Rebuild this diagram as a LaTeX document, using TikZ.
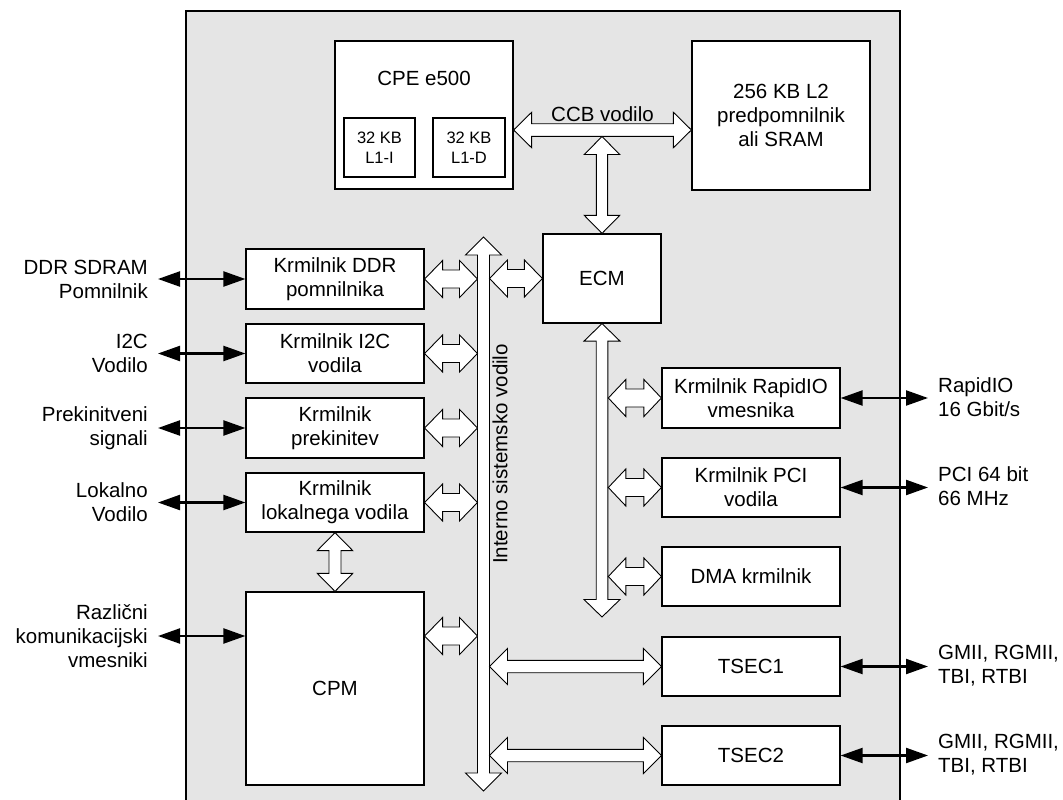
\documentclass[tikz,border=0pt]{standalone}
\usepackage{fontspec}
\setmainfont{Liberation Sans}
\usetikzlibrary{arrows.meta,calc}
\definecolor{chipgray}{RGB}{229,229,229}
% horizontal block double arrow: #1 left point, #2 right point, #3 shaft half, #4 head half, #5 head length
\newcommand{\hba}[5]{%
  \draw[barrow] let \p1=#1, \p2=#2 in
   (\x1,\y1) -- (\x1+#5pt,\y1+#4pt) -- (\x1+#5pt,\y1+#3pt) -- (\x2-#5pt,\y1+#3pt)
   -- (\x2-#5pt,\y1+#4pt) -- (\x2,\y1) -- (\x2-#5pt,\y1-#4pt) -- (\x2-#5pt,\y1-#3pt)
   -- (\x1+#5pt,\y1-#3pt) -- (\x1+#5pt,\y1-#4pt) -- cycle;}
% vertical block double arrow: #1 top point, #2 bottom point
\newcommand{\vba}[5]{%
  \draw[barrow] let \p1=#1, \p2=#2 in
   (\x1,\y1) -- (\x1+#4pt,\y1-#5pt) -- (\x1+#3pt,\y1-#5pt) -- (\x1+#3pt,\y2+#5pt)
   -- (\x1+#4pt,\y2+#5pt) -- (\x1,\y2) -- (\x1-#4pt,\y2+#5pt) -- (\x1-#3pt,\y2+#5pt)
   -- (\x1-#3pt,\y1-#5pt) -- (\x1-#4pt,\y1-#5pt) -- cycle;}
\tikzset{
  box/.style={draw=black, fill=white, line width=1.2pt, align=center, inner sep=0pt,
    font=\fontsize{20.5}{24}\selectfont},
  smallbox/.style={box, font=\fontsize{16.5}{20}\selectfont},
  txt/.style={align=center, inner sep=0pt, font=\fontsize{20.5}{24}\selectfont},
  barrow/.style={draw=black, fill=white, line width=0.9pt, line join=miter},
  ext/.style={draw=black, line width=2.2pt,
    {Triangle[length=22pt,width=15pt]}-{Triangle[length=22pt,width=15pt]}},
}
\begin{document}
\begin{tikzpicture}[x=1pt,y=-1pt]
\useasboundingbox (0,0) rectangle (1063,800);
\clip (0,0) rectangle (1063,800);
% chip background
\fill[chipgray] (186,11) rectangle (900,820);
\draw[line width=1.4pt] (186,820) -- (186,11) -- (900,11) -- (900,820);

% top blocks
\node[box, minimum width=178pt, minimum height=148pt] (cpe) at (424,115) {};
\node[txt] (cpetxt) at (424,78) {CPE e500};
\node[smallbox, minimum width=71pt, minimum height=59pt] (l1i) at (379.5,147.5) {32 KB\\L1-I};
\node[smallbox, minimum width=72pt, minimum height=59pt] (l1d) at (469,147.5) {32 KB\\L1-D};
\node[box, minimum width=178pt, minimum height=149pt] (l2) at (781,115.5) {256 KB L2\\predpomnilnik\\ali SRAM};
\node[box, minimum width=118pt, minimum height=89pt] (ecm) at (602,278.5) {ECM};

% left blocks
\node[box, minimum width=178pt, minimum height=60pt] (ddr) at (335,279) {Krmilnik DDR\\pomnilnika};
\node[box, minimum width=178pt, minimum height=59pt] (i2c) at (335,353.5) {Krmilnik I2C\\vodila};
\node[box, minimum width=178pt, minimum height=60pt] (prek) at (335,428) {Krmilnik\\prekinitev};
\node[box, minimum width=178pt, minimum height=59pt] (lok) at (335,502.5) {Krmilnik\\lokalnega vodila};
\node[box, minimum width=178pt, minimum height=193pt] (cpm) at (335,688.5) {CPM};

% right blocks
\node[box, minimum width=178pt, minimum height=60pt] (rio) at (751,398) {Krmilnik RapidIO\\vmesnika};
\node[box, minimum width=178pt, minimum height=59pt] (pci) at (751,487.5) {Krmilnik PCI\\vodila};
\node[box, minimum width=178pt, minimum height=59pt] (dma) at (751,576.5) {DMA krmilnik};
\node[box, minimum width=178pt, minimum height=59pt] (tsec1) at (751,666.5) {TSEC1};
\node[box, minimum width=178pt, minimum height=59pt] (tsec2) at (751,755.5) {TSEC2};

% helper coordinates
\coordinate (ccby) at (600,130);
\coordinate (ccbjoin) at (602,136.5);
\coordinate (bustop) at (483.5,237);
\coordinate (busbot) at (483.5,791);
\coordinate (busL) at (477.5,0);
\coordinate (busR) at (489.5,0);
\coordinate (ecmbot) at (602,617);
\coordinate (ecmR) at (608.3,0);

% CCB bus
\hba{(cpe.east |- ccby)}{(l2.west |- ccby)}{6.3}{17.7}{18}
\node[txt, anchor=base] (ccbtxt) at (602.5,121.5) {CCB vodilo};
\vba{(ccbjoin)}{(ecm.north)}{5.6}{17.7}{18}

% internal system bus
\vba{(bustop)}{(busbot)}{6}{18}{18}
\node[txt, rotate=90] (bustxt) at (500,454) {Interno sistemsko vodilo};

% ECM bus
\vba{(ecm.south)}{(ecmbot)}{5.8}{18}{17.5}

% short arrows left side
\hba{(ddr.east)}{(ddr.east -| busL)}{9}{18.5}{18}
\hba{(i2c.east)}{(i2c.east -| busL)}{9}{18.5}{18}
\hba{(prek.east)}{(prek.east -| busL)}{9}{18.5}{18}
\hba{(lok.east)}{(lok.east -| busL)}{9}{18.5}{18}
\hba{(cpm.east |- 0,636)}{(busL |- 0,636)}{9}{18.5}{18}
\hba{(busR |- ecm.west)}{(ecm.west)}{9}{18.5}{18}
\vba{(lok.south)}{(cpm.north)}{6}{17.7}{18}

% short arrows right side
\hba{(ecmR |- rio.west)}{(rio.west)}{9}{18.5}{17.5}
\hba{(ecmR |- pci.west)}{(pci.west)}{9}{18.5}{17.5}
\hba{(ecmR |- dma.west)}{(dma.west)}{9}{18.5}{17.5}

% long arrows to TSEC
\hba{(busR |- tsec1.west)}{(tsec1.west)}{6.2}{18}{18}
\hba{(busR |- tsec2.west)}{(tsec2.west)}{6.2}{18}{18}

% external connections left
\coordinate (xddr) at (158,279);
\coordinate (xi2c) at (158,353.5);
\coordinate (xprek) at (158,428);
\coordinate (xlok) at (158,502.5);
\coordinate (xcpm) at (158,636);
\draw[ext] (xddr) -- (ddr.west);
\draw[ext] (xi2c) -- (i2c.west);
\draw[ext] (xprek) -- (prek.west);
\draw[ext] (xlok) -- (lok.west);
\draw[ext] (xcpm) -- (xcpm -| cpm.west);
\node[txt, align=right, anchor=east] (lddr) at (148,279) {DDR SDRAM\\Pomnilnik};
\node[txt, align=right, anchor=east] (li2c) at (148,353.5) {I2C\\Vodilo};
\node[txt, align=right, anchor=east] (lprek) at (148,428) {Prekinitveni\\signali};
\node[txt, align=right, anchor=east] (llok) at (148,502.5) {Lokalno\\Vodilo};
\node[txt, align=right, anchor=east] (lcpm) at (148,636) {Različni\\komunikacijski\\vmesniki};

% external connections right
\coordinate (xrio) at (928,398);
\coordinate (xpci) at (928,487.5);
\coordinate (xts1) at (928,666.5);
\coordinate (xts2) at (928,755.5);
\draw[ext] (rio.east) -- (xrio);
\draw[ext] (pci.east) -- (xpci);
\draw[ext] (tsec1.east) -- (xts1);
\draw[ext] (tsec2.east) -- (xts2);
\node[txt, align=left, anchor=west] (rrio) at (938,397) {RapidIO\\16 Gbit/s};
\node[txt, align=left, anchor=west] (rpci) at (938,486.5) {PCI 64 bit\\66 MHz};
\node[txt, align=left, anchor=west] (rts1) at (938,666) {GMII, RGMII,\\TBI, RTBI};
\node[txt, align=left, anchor=west] (rts2) at (938,755) {GMII, RGMII,\\TBI, RTBI};
\end{tikzpicture}
\end{document}
